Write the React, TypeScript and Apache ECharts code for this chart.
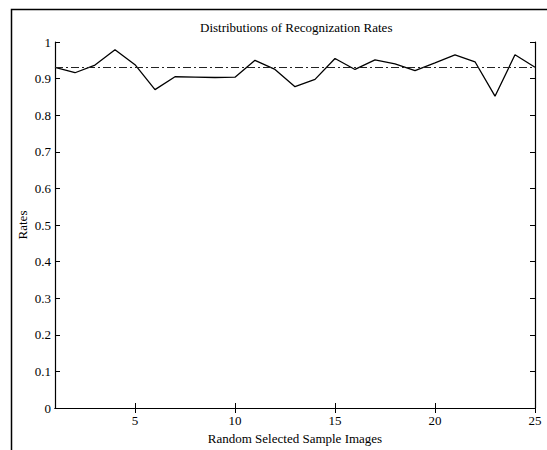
import React, { useEffect, useRef } from "react";
import * as echarts from "echarts";

const titleText = "Distributions of Recognization Rates";
const xAxisName = "Random Selected Sample Images";
const yAxisName = "Rates";
const sampleIndex = [1, 2, 3, 4, 5, 6, 7, 8, 9, 10, 11, 12, 13, 14, 15, 16, 17, 18, 19, 20, 21, 22, 23, 24, 25];
const rates = [0.931, 0.916, 0.937, 0.979, 0.938, 0.870, 0.905, 0.904, 0.903, 0.904, 0.950, 0.925, 0.878, 0.898, 0.955, 0.925, 0.951, 0.940, 0.922, 0.943, 0.965, 0.946, 0.852, 0.965, 0.931];
const meanRate = 0.925;
const xTicks = [5, 10, 15, 20, 25];
const yTicks = [0, 0.1, 0.2, 0.3, 0.4, 0.5, 0.6, 0.7, 0.8, 0.9, 1];

const FONT = "Liberation Serif";

export default function App() {
  const ref = useRef<HTMLDivElement>(null);
  useEffect(() => {
    document.body.style.margin = "0";
    document.body.style.overflow = "hidden";
    if (!ref.current) return;
    const chart = echarts.init(ref.current, null, { renderer: "svg" });
    const axisLine = { show: true, lineStyle: { color: "#000", width: 1.2 } };
    const tickStyle = { color: "#000", width: 1 };
    chart.setOption({
      animation: false,
      backgroundColor: "#fff",
      title: {
        text: titleText,
        left: 200,
        top: 21,
        padding: 0,
        textStyle: { fontFamily: FONT, fontSize: 13, fontWeight: "normal", color: "#000" },
      },
      grid: { left: 55, right: 12, top: 42, bottom: 35, containLabel: false },
      xAxis: [
        {
          type: "value",
          min: 1,
          max: 25,
          position: "bottom",
          name: xAxisName,
          nameLocation: "middle",
          nameGap: 24,
          nameMoveOverlap: false,
          nameTextStyle: { fontFamily: FONT, fontSize: 13, color: "#000" },
          axisLine,
          axisTick: { show: true, inside: true, length: 5, lineStyle: tickStyle, customValues: xTicks },
          axisLabel: { show: true, customValues: xTicks, fontFamily: FONT, fontSize: 13, color: "#000", margin: 6 },
          splitLine: { show: false },
        },
        {
          type: "value",
          min: 1,
          max: 25,
          position: "top",
          axisLine,
          axisTick: { show: true, inside: true, length: 5, lineStyle: tickStyle, customValues: xTicks },
          axisLabel: { show: false },
          splitLine: { show: false },
        },
      ],
      yAxis: [
        {
          type: "value",
          min: 0,
          max: 1,
          interval: 0.1,
          position: "left",
          name: yAxisName,
          nameLocation: "middle",
          nameGap: 26,
          nameMoveOverlap: false,
          nameRotate: 90,
          nameTextStyle: { fontFamily: FONT, fontSize: 13, color: "#000" },
          axisLine,
          axisTick: { show: true, inside: true, length: 5, lineStyle: tickStyle, customValues: yTicks },
          axisLabel: {
            show: true,
            customValues: yTicks,
            fontFamily: FONT,
            fontSize: 13,
            color: "#000",
            margin: 4,
            formatter: (v: number) => String(Math.round(v * 10) / 10),
          },
          splitLine: { show: false },
        },
        {
          type: "value",
          min: 0,
          max: 1,
          interval: 0.1,
          position: "right",
          axisLine,
          axisTick: { show: true, inside: true, length: 5, lineStyle: tickStyle },
          axisLabel: { show: false },
          splitLine: { show: false },
        },
      ],
      series: [
        {
          type: "line",
          xAxisIndex: 0,
          yAxisIndex: 0,
          data: sampleIndex.map((x, i) => [x, rates[i]]),
          symbol: "none",
          lineStyle: { color: "#000", width: 1.3 },
          markLine: {
            silent: true,
            symbol: "none",
            label: { show: false },
            lineStyle: { color: "#222", width: 1.2, type: [8, 3, 2, 3] },
            data: [{ yAxis: meanRate }],
          },
        },
      ],
      graphic: [
        {
          type: "rect",
          shape: { x: 11.5, y: 9.5, width: 600, height: 600 },
          style: { fill: "none", stroke: "#000", lineWidth: 1.5 },
          silent: true,
        },
      ],
    });
    return () => chart.dispose();
  }, []);
  return <div ref={ref} style={{ width: 547, height: 450 }} />;
}
